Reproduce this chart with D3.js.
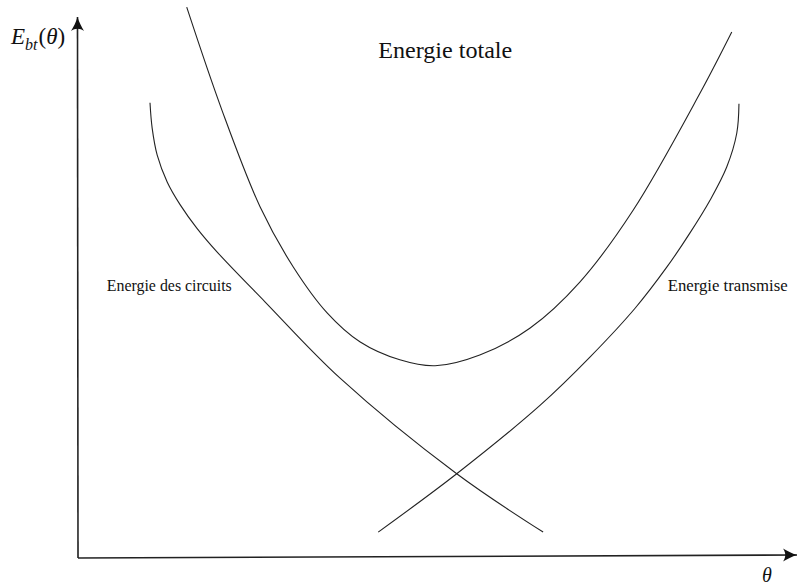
<!DOCTYPE html>
<html>
<head>
<meta charset="utf-8">
<script src="https://cdn.jsdelivr.net/npm/d3@7"></script>
<style>
    body { margin: 0; background: #fff; }
</style>
</head>
<body>
<div class="chartBoard"></div>
<script>
// curves, as [theta, energy] in arbitrary units (0..100)
const circuits = [
    [10.0, 84.3], [10.3, 79.6], [11.0, 74.6], [12.4, 69.6], [14.2, 65.4],
    [16.5, 61.1], [19.3, 56.7], [26.0, 47.4], [36.4, 33.3], [52.6, 15.6],
    [64.6, 4.8]
];
const transmise = [
    [41.7, 4.8], [52.6, 15.6], [64.2, 28.3], [71.1, 37.2], [77.4, 46.3],
    [81.8, 53.9], [85.0, 60.2], [87.8, 66.3], [90.1, 72.4], [91.5, 78.7],
    [91.8, 84.1]
];
const totale = [
    [15.1, 102.0], [20.0, 82.9], [25.3, 65.0], [29.9, 53.9], [34.6, 45.4],
    [39.2, 40.0], [44.7, 36.7], [49.6, 35.6], [55.8, 37.6], [62.8, 42.6],
    [69.7, 51.1], [77.1, 64.4], [86.4, 86.1], [90.8, 97.4]
];
// axis ends (x axis is drawn slightly tilted in the original)
const xAxisEnd = [100, 0.55];
const yAxisEnd = [0, 100.2];

// curve labels: text, anchor point [theta, energy]
const labels = [
    { text: "Energie totale", at: [41.7, 92.6], size: 24, len: 134 },
    { text: "Energie des circuits", at: [4.0, 49.4], size: 17.5, len: 125 },
    { text: "Energie transmise", at: [81.9, 49.4], size: 17.5, len: 120 }
];

const w = 798, h = 588;
const serif = "'Liberation Serif', 'DejaVu Serif', serif";

const x = d3.scaleLinear().domain([0, 100]).range([78, 798]);
const y = d3.scaleLinear().domain([0, 100]).range([558, 18]);

const svg = d3.select(".chartBoard")
    .append("svg")
    .attr("width", w)
    .attr("height", h);

const line = d3.line()
    .x(d => x(d[0]))
    .y(d => y(d[1]))
    .curve(d3.curveCatmullRom.alpha(0.5));

// AXES
function arrow(x1, y1, x2, y2) {
    svg.append("line")
        .attr("x1", x1).attr("y1", y1)
        .attr("x2", x2).attr("y2", y2)
        .attr("stroke", "#222")
        .attr("stroke-width", 1.6);
    const a = Math.atan2(y2 - y1, x2 - x1) * 180 / Math.PI;
    svg.append("path")
        .attr("d", "M0,0 C-5,-1.5 -10,-4 -14,-6.5 C-11,-2.5 -11,2.5 -14,6.5 C-10,4 -5,1.5 0,0Z")
        .attr("fill", "#111")
        .attr("transform", `translate(${x2},${y2}) rotate(${a})`);
}
arrow(x(0), y(0), x(xAxisEnd[0]) - 1, y(xAxisEnd[1]));
arrow(x(yAxisEnd[0]), y(0), x(yAxisEnd[0]) - 0.5, y(yAxisEnd[1]));

// CURVES
[circuits, transmise, totale].forEach(c => {
    svg.append("path")
        .datum(c)
        .attr("d", line)
        .attr("fill", "none")
        .attr("stroke", "#222")
        .attr("stroke-width", 1.1);
});

// LABELS
labels.forEach(l => {
    svg.append("text")
        .attr("x", x(l.at[0]))
        .attr("y", y(l.at[1]))
        .attr("font-family", serif)
        .attr("font-size", l.size)
        .attr("fill", "#111")
        .attr("textLength", l.len)
        .attr("lengthAdjust", "spacingAndGlyphs")
        .text(l.text);
});

// axis titles
const yt = svg.append("text")
    .attr("x", 11)
    .attr("y", 44)
    .attr("font-family", serif)
    .attr("fill", "#111")
    .attr("font-size", 23);
yt.append("tspan").attr("font-style", "italic").text("E");
yt.append("tspan").attr("font-style", "italic").attr("font-size", 16).attr("dy", 6).text("bt");
yt.append("tspan").attr("dy", -6).attr("dx", 1).text("(");
yt.append("tspan").attr("font-style", "italic").text("θ");
yt.append("tspan").text(")");

svg.append("text")
    .attr("x", 767)
    .attr("y", 582)
    .attr("font-family", serif)
    .attr("fill", "#111")
    .attr("font-size", 20)
    .attr("font-style", "italic")
    .attr("text-anchor", "middle")
    .text("θ");
</script>
</body>
</html>
